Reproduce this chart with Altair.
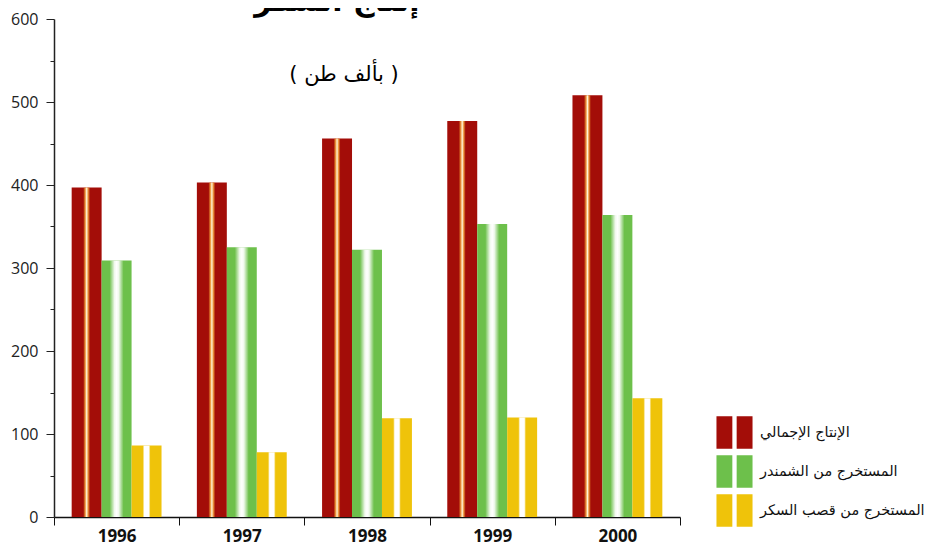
import altair as alt
import pandas as pd

years = ["1996", "1997", "1998", "1999", "2000"]
series = ["الإنتاج الإجمالي", "المستخرج من الشمندر", "المستخرج من قصب السكر"]
total = [397, 403, 456, 477, 508]
beet = [309, 325, 322, 353, 364]
cane = [86, 78, 119, 120, 143]
colors = ["#A30D08", "#6DC04B", "#EFC30A"]
title_text = "إنتاج السكر"
subtitle_text = "( بألف طن )"

rows = []
for i, y in enumerate(years):
    rows.append({"year": y, "series": series[0], "value": total[i]})
    rows.append({"year": y, "series": series[1], "value": beet[i]})
    rows.append({"year": y, "series": series[2], "value": cane[i]})
df = pd.DataFrame(rows)

W, H = 626, 498

x_enc = alt.X("year:N", sort=years, title=None,
              scale=alt.Scale(paddingInner=0, paddingOuter=0),
              axis=alt.Axis(labelAngle=0, tickBand="extent", tickSize=8,
                            tickColor="#111", domainColor="#111", domainWidth=1.5,
                            labelFont="Open Sans", labelFontSize=17, labelFontWeight="bold",
                            labelColor="#111", labelPadding=3))
xo_enc = alt.XOffset("series:N", sort=series,
                     scale=alt.Scale(domain=series, paddingOuter=0.59, paddingInner=0))
y_enc = alt.Y("value:Q", title=None,
              scale=alt.Scale(domain=[0, 600], nice=False),
              axis=alt.Axis(values=list(range(0, 601, 50)),
                            labelExpr="datum.value % 100 === 0 ? datum.label : ''",
                            tickSize={"condition": {"test": "datum.value % 100 === 0", "value": 8}, "value": 4},
                            tickColor="#222", domainColor="#222", domainWidth=1.5,
                            labelFont="Open Sans", labelFontSize=16, labelColor="#222",
                            labelPadding=8, grid=False))

legend_symbol = "M-1,-0.9H-0.12V0.9H-1Z M0.12,-0.9H1V0.9H0.12Z"

bars = alt.Chart(df).mark_bar().encode(
    x=x_enc,
    xOffset=xo_enc,
    y=y_enc,
    color=alt.Color("series:N", sort=series,
                    scale=alt.Scale(domain=series, range=colors),
                    legend=alt.Legend(title=None, orient="none", legendX=662, legendY=395,
                                      symbolType=legend_symbol, symbolSize=1300,
                                      symbolStrokeWidth=0, rowPadding=4, labelOffset=7,
                                      labelFont="DejaVu Sans", labelFontSize=14.5,
                                      labelColor="#111", labelLimit=300)),
)

def stripe(name, width, stops):
    grad = alt.Gradient(gradient="linear", x1=0, x2=1, y1=0, y2=0,
                        stops=[alt.GradientStop(offset=o, color=c) for o, c in stops])
    return alt.Chart(df).transform_filter(
        alt.datum.series == name
    ).mark_bar(width=width, color=grad).encode(x=x_enc, xOffset=xo_enc, y=y_enc)

s_red = stripe(series[0], 7, [(0, "rgba(240,150,40,0)"), (0.3, "rgba(245,170,70,0.9)"),
                               (0.5, "#FFF6E0"), (0.7, "rgba(245,170,70,0.9)"),
                               (1, "rgba(240,150,40,0)")])
s_green = stripe(series[1], 14, [(0, "rgba(255,255,255,0)"), (0.35, "rgba(255,255,255,0.9)"),
                                  (0.5, "#FFFFFF"), (0.65, "rgba(255,255,255,0.9)"),
                                  (1, "rgba(255,255,255,0)")])
s_yellow = stripe(series[2], 7, [(0, "rgba(255,255,255,0.3)"), (0.2, "#FFFFFF"),
                                  (0.8, "#FFFFFF"), (1, "rgba(255,255,255,0.3)")])

title_df = pd.DataFrame({"t": [title_text]})
sub_df = pd.DataFrame({"t": [subtitle_text]})

title_mark = alt.Chart(title_df).mark_text(
    font="DejaVu Sans", fontSize=30, fontWeight="bold", color="#000",
    align="center", baseline="alphabetic"
).encode(x=alt.value(283), y=alt.value(-8), text="t:N")

sub_mark = alt.Chart(sub_df).mark_text(
    font="DejaVu Sans", fontSize=21, color="#000",
    align="center", baseline="middle"
).encode(x=alt.value(290), y=alt.value(56), text="t:N")

chart = alt.layer(bars, s_red, s_green, s_yellow, title_mark, sub_mark).properties(
    width=W, height=H,
    autosize=alt.AutoSizeParams(type="none"),
    padding={"left": 46, "top": 11, "right": 249, "bottom": 31},
    background="white",
).configure_view(stroke=None)

chart.save("out.html", embed_options={"renderer": "svg", "actions": False})
